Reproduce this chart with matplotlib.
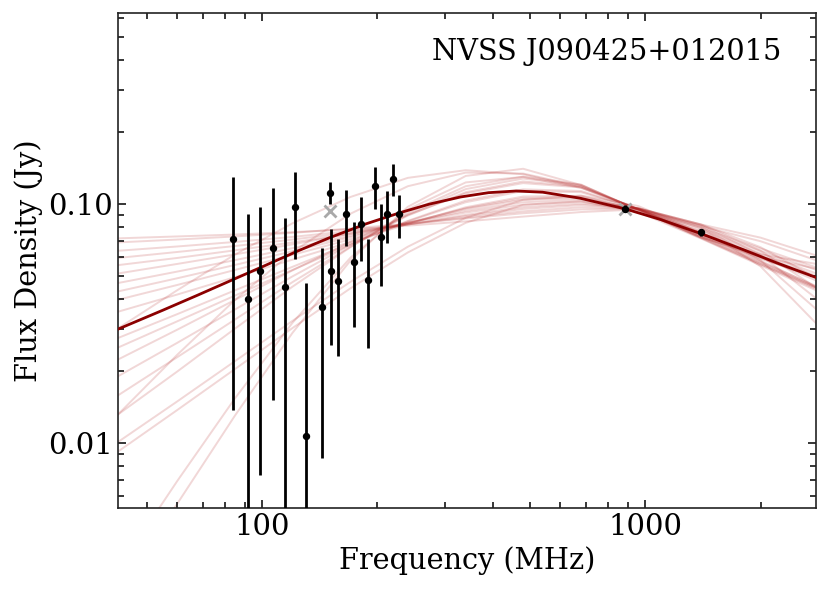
import numpy as np
import matplotlib
matplotlib.use('Agg')
import matplotlib.pyplot as plt
from matplotlib.ticker import FixedLocator, FormatStrFormatter, NullFormatter

# GLEAM sub-band points (MHz, Jy)
gleam_freq = [84, 92, 99, 107, 115, 122, 130, 143, 151, 158, 166, 174, 181, 189, 197, 204, 212, 220, 227]
gleam_flux = [0.0718, 0.0403, 0.0524, 0.0657, 0.0451, 0.0974, 0.0107, 0.0370, 0.0524, 0.0475,
              0.0908, 0.0574, 0.0825, 0.0484, 0.1190, 0.0728, 0.0908, 0.1276, 0.0908]
gleam_err = [0.0580, 0.0510, 0.0450, 0.0506, 0.0423, 0.0383, 0.0359, 0.0283, 0.0267, 0.0243,
             0.0240, 0.0269, 0.0248, 0.0234, 0.0234, 0.0272, 0.0222, 0.0198, 0.0186]

# other surveys
other_freq = [150, 888, 1400]
other_flux = [0.1115, 0.0959, 0.0764]
other_err = [0.0117, 0.0030, 0.0025]

# points left out of the fit (grey crosses)
excl_freq = [150, 888]
excl_flux = [0.0932, 0.0950]

# best fit model
fit_freq = [42, 55, 68, 84, 100, 125, 150, 187, 230, 273, 330, 390, 460, 540, 676, 888, 1100, 1407, 1800, 2200, 2800]
fit_flux = [0.0300, 0.0360, 0.0417, 0.0484, 0.0547, 0.0641, 0.0724, 0.0828, 0.0923, 0.1000, 0.1072,
            0.1117, 0.1135, 0.1122, 0.1059, 0.0955, 0.0861, 0.0750, 0.0646, 0.0569, 0.0493]

# posterior draws, log10 flux on a common frequency grid
draw_freq = [42, 60, 85, 120, 170, 240, 340, 480, 680, 960, 1400, 2000, 2800]
draw_logS = [
    [-1.143, -1.135, -1.127, -1.117, -1.105, -1.090, -1.072, -1.052, -1.033, -1.022, -1.100, -1.260, -1.500],
    [-1.160, -1.148, -1.135, -1.120, -1.102, -1.082, -1.060, -1.038, -1.022, -1.020, -1.095, -1.235, -1.440],
    [-1.195, -1.177, -1.158, -1.137, -1.112, -1.085, -1.056, -1.030, -1.013, -1.018, -1.090, -1.212, -1.395],
    [-1.225, -1.200, -1.175, -1.148, -1.118, -1.085, -1.050, -1.020, -1.004, -1.017, -1.086, -1.195, -1.350],
    [-1.255, -1.225, -1.193, -1.160, -1.124, -1.085, -1.045, -1.012, -0.998, -1.017, -1.085, -1.180, -1.310],
    [-1.290, -1.250, -1.210, -1.168, -1.124, -1.078, -1.035, -1.002, -0.990, -1.018, -1.085, -1.140, -1.215],
    [-1.330, -1.282, -1.234, -1.184, -1.132, -1.078, -1.028, -0.992, -0.982, -1.018, -1.092, -1.155, -1.235],
    [-1.365, -1.310, -1.254, -1.197, -1.138, -1.077, -1.020, -0.982, -0.975, -1.020, -1.100, -1.185, -1.265],
    [-1.400, -1.338, -1.275, -1.212, -1.147, -1.080, -1.017, -0.975, -0.970, -1.022, -1.108, -1.195, -1.275],
    [-1.450, -1.378, -1.305, -1.232, -1.158, -1.083, -1.013, -0.968, -0.965, -1.025, -1.115, -1.205, -1.290],
    [-1.560, -1.460, -1.360, -1.262, -1.165, -1.072, -0.992, -0.945, -0.950, -1.020, -1.120, -1.215, -1.300],
    [-1.600, -1.490, -1.382, -1.275, -1.170, -1.070, -0.985, -0.938, -0.945, -1.020, -1.122, -1.220, -1.320],
    [-1.650, -1.525, -1.400, -1.277, -1.157, -1.045, -0.955, -0.912, -0.930, -1.020, -1.128, -1.225, -1.310],
    [-1.720, -1.580, -1.440, -1.302, -1.170, -1.048, -0.950, -0.905, -0.926, -1.022, -1.132, -1.228, -1.305],
    [-1.800, -1.640, -1.482, -1.326, -1.178, -1.043, -0.937, -0.893, -0.920, -1.024, -1.138, -1.220, -1.270],
    [-1.880, -1.700, -1.520, -1.345, -1.180, -1.035, -0.925, -0.885, -0.918, -1.026, -1.140, -1.210, -1.250],
    [-1.995, -1.825, -1.656, -1.488, -1.325, -1.178, -1.057, -0.982, -0.964, -1.008, -1.120, -1.236, -1.346],
    [-2.035, -1.861, -1.689, -1.518, -1.352, -1.202, -1.078, -1.003, -0.988, -1.033, -1.144, -1.256, -1.361],
    [-2.530, -2.158, -1.811, -1.496, -1.224, -1.022, -0.909, -0.886, -0.932, -1.021, -1.133, -1.241, -1.343],
    [-2.640, -2.253, -1.883, -1.538, -1.236, -1.011, -0.882, -0.852, -0.920, -1.024, -1.142, -1.251, -1.350],
    [-1.520, -1.360, -1.210, -1.080, -0.970, -0.890, -0.858, -0.875, -0.930, -1.020, -1.135, -1.245, -1.350],
    [-1.880, -1.630, -1.400, -1.200, -1.040, -0.925, -0.868, -0.872, -0.925, -1.022, -1.140, -1.250, -1.355],
]

source_name = 'NVSS J090425+012015'

plt.rcParams['font.family'] = 'DejaVu Serif'
plt.rcParams['mathtext.fontset'] = 'dejavuserif'

fig = plt.figure(figsize=(8.3, 5.91), dpi=100)
ax = fig.add_axes([0.142, 0.140, 0.841, 0.838])

for row in draw_logS:
    ax.plot(draw_freq, 10 ** np.array(row), color='firebrick', alpha=0.18, lw=1.4, zorder=1)

ax.plot(fit_freq, fit_flux, color='darkred', lw=2.0, zorder=3)

ax.plot(excl_freq, excl_flux, 'x', color='darkgray', ms=8, mew=2, zorder=2)

ax.errorbar(gleam_freq, gleam_flux, yerr=gleam_err, fmt='o', color='k', ms=4.3,
            elinewidth=2, capsize=0, zorder=4)
ax.errorbar(other_freq, other_flux, yerr=other_err, fmt='o', color='k', ms=4.3,
            elinewidth=2, capsize=0, zorder=4)

ax.set_xscale('log')
ax.set_yscale('log')
ax.set_xlim(42, 2790)
ax.set_ylim(0.00535, 0.63)

ax.yaxis.set_major_locator(FixedLocator([0.01, 0.1]))
ax.yaxis.set_major_formatter(FormatStrFormatter('%.2f'))
ax.yaxis.set_minor_formatter(NullFormatter())
ax.xaxis.set_major_locator(FixedLocator([100, 1000]))
ax.xaxis.set_major_formatter(FormatStrFormatter('%d'))
ax.xaxis.set_minor_formatter(NullFormatter())

ax.tick_params(which='both', direction='in', top=True, right=True, labelsize=21, width=1.1)
ax.tick_params(which='major', length=6)
ax.tick_params(which='minor', length=4)
for sp in ax.spines.values():
    sp.set_linewidth(1.2)
    sp.set_color('#222222')

ax.set_xlabel('Frequency (MHz)', fontsize=20.7)
ax.set_ylabel('Flux Density (Jy)', fontsize=20.7)
ax.text(0.95, 0.95, source_name, transform=ax.transAxes, ha='right', va='top', fontsize=20.7)

fig.savefig('out.png', dpi=100)
